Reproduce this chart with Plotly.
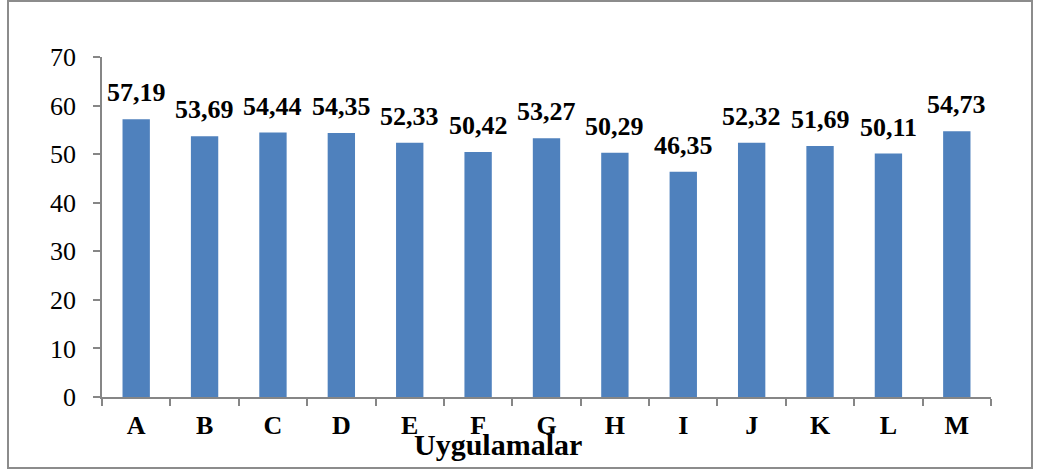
import plotly.graph_objects as go

# Uygulamalar ve ortalama değerleri
categories = ["A", "B", "C", "D", "E", "F", "G", "H", "I", "J", "K", "L", "M"]
values = [57.19, 53.69, 54.44, 54.35, 52.33, 50.42, 53.27, 50.29, 46.35, 52.32, 51.69, 50.11, 54.73]
y_ticks = [0, 10, 20, 30, 40, 50, 60, 70]

BAR_COLOR = "#4F81BD"
AXIS_COLOR = "#868686"
SERIF = "Liberation Serif, Times New Roman, serif"

W, H = 1037, 472
L, R, T, B = 102, 46, 57, 75
plot_w = W - L - R
plot_h = H - T - B


def fmt(v):
    return f"{v:.2f}".replace(".", ",")


fig = go.Figure(
    go.Bar(
        x=categories,
        y=values,
        marker=dict(color=BAR_COLOR, line=dict(width=0)),
        width=0.4,
        hoverinfo="x+y",
    )
)

# Değer etiketleri çubukların üstünde
for c, v in zip(categories, values):
    fig.add_annotation(
        x=c, y=v, text=fmt(v), showarrow=False,
        xanchor="center", yanchor="bottom", yshift=10,
        font=dict(family=SERIF, size=26, color="black", weight="bold"),
    )

# Dış çerçeve (piksel -> paper koordinatları)
px_x = lambda px: (px - L) / plot_w
px_y = lambda py: (H - B - py) / plot_h
fig.add_shape(
    type="rect", xref="paper", yref="paper",
    x0=px_x(8), x1=px_x(1032), y0=px_y(468), y1=px_y(1),
    line=dict(color="#8c8c8c", width=2), fillcolor="rgba(0,0,0,0)",
    layer="below",
)

# Eksen başlığı
fig.add_annotation(
    xref="paper", yref="paper", x=px_x(498), y=px_y(457),
    text="Uygulamalar", showarrow=False,
    xanchor="center", yanchor="bottom", yshift=-6,
    font=dict(family=SERIF, size=30, color="black", weight="bold"),
)

fig.update_layout(
    width=W, height=H,
    margin=dict(l=L, r=R, t=T, b=B, pad=0),
    paper_bgcolor="white", plot_bgcolor="white",
    showlegend=False,
    bargap=0.6,
    xaxis=dict(
        type="category",
        showline=True, linecolor=AXIS_COLOR, linewidth=1.5,
        ticks="outside", tickson="boundaries", ticklen=7,
        tickcolor=AXIS_COLOR, tickwidth=1.5,
        tickfont=dict(family=SERIF, size=26, color="black", weight="bold"),
        ticklabelstandoff=4,
        showgrid=False, zeroline=False,
    ),
    yaxis=dict(
        range=[0, 70],
        tickvals=y_ticks,
        ticktext=[str(t) for t in y_ticks],
        showline=True, linecolor=AXIS_COLOR, linewidth=1.5,
        ticks="outside", ticklen=7, tickcolor=AXIS_COLOR, tickwidth=1.5,
        tickfont=dict(family=SERIF, size=26, color="black"),
        ticklabelstandoff=12,
        showgrid=False, zeroline=False,
    ),
)

fig.write_html("out.html")
